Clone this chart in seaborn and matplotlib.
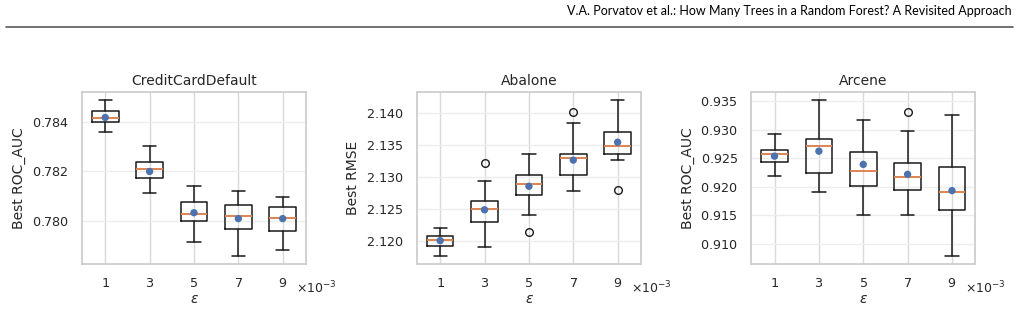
import matplotlib
matplotlib.use("Agg")
import matplotlib.pyplot as plt
from matplotlib.ticker import MultipleLocator
import pandas as pd
import seaborn as sns

# epsilon values (x positions)
eps = [0.001, 0.003, 0.005, 0.007, 0.009]

titles = ["CreditCardDefault", "Abalone", "Arcene"]
ylabels = ["Best ROC_AUC", "Best RMSE", "Best ROC_AUC"]
ytick_steps = [0.002, 0.005, 0.005]

# box statistics: whislo, q1, med, q3, whishi, mean, fliers
credit_whislo = [0.78359, 0.78112, 0.77914, 0.77855, 0.77881]
credit_q1 = [0.78403, 0.78172, 0.78000, 0.77964, 0.77958]
credit_med = [0.78416, 0.78212, 0.78028, 0.78019, 0.78011]
credit_q3 = [0.78445, 0.78238, 0.78076, 0.78064, 0.78057]
credit_whishi = [0.78492, 0.78303, 0.78139, 0.78122, 0.78095]
credit_mean = [0.78420, 0.78200, 0.78032, 0.78008, 0.78008]
credit_fliers = [[], [], [], [], []]

abalone_whislo = [2.11762, 2.11907, 2.12399, 2.12788, 2.13270]
abalone_q1 = [2.11922, 2.12290, 2.12725, 2.13026, 2.13363]
abalone_med = [2.12021, 2.12492, 2.12891, 2.13295, 2.13492]
abalone_q3 = [2.12078, 2.12617, 2.13031, 2.13363, 2.13710]
abalone_whishi = [2.12197, 2.12943, 2.13352, 2.13845, 2.14207]
abalone_mean = [2.12005, 2.12487, 2.12855, 2.13264, 2.13544]
abalone_fliers = [[], [2.13223], [2.12140], [2.14010], [2.12793]]

arcene_whislo = [0.92195, 0.91903, 0.91495, 0.91507, 0.90779]
arcene_q1 = [0.92439, 0.92241, 0.92020, 0.91950, 0.91594]
arcene_med = [0.92573, 0.92713, 0.92282, 0.92177, 0.91909]
arcene_q3 = [0.92643, 0.92836, 0.92614, 0.92416, 0.92340]
arcene_whishi = [0.92923, 0.93529, 0.93174, 0.92981, 0.93267]
arcene_mean = [0.92538, 0.92626, 0.92393, 0.92218, 0.91932]
arcene_fliers = [[], [], [], [0.93308], []]

panels = [
    (credit_whislo, credit_q1, credit_med, credit_q3, credit_whishi, credit_mean, credit_fliers),
    (abalone_whislo, abalone_q1, abalone_med, abalone_q3, abalone_whishi, abalone_mean, abalone_fliers),
    (arcene_whislo, arcene_q1, arcene_med, arcene_q3, arcene_whishi, arcene_mean, arcene_fliers),
]

sns.set_theme(style="whitegrid")
plt.rcParams["axes.formatter.use_mathtext"] = True
plt.rcParams["font.family"] = ["DejaVu Sans"]

fig = plt.figure(figsize=(10.19, 3.34), dpi=100)

# page header
fig.text(0.993, 0.966, "V.A. Porvatov et al.: How Many Trees in a Random Forest? A Revisited Approach",
         ha="right", va="center", fontsize=9, family="Lato", color="black")
fig.add_artist(plt.Line2D([0.006, 0.994], [0.918, 0.918], color="0.35", lw=1.2))

lefts = [0.0802, 0.4089, 0.737]
for i, (wlo, q1, med, q3, whi, mean, fl) in enumerate(panels):
    ax = fig.add_axes([lefts[i], 0.2096, 0.2203, 0.515])
    stats = [dict(whislo=wlo[k], q1=q1[k], med=med[k], q3=q3[k], whishi=whi[k],
                  fliers=fl[k], mean=mean[k]) for k in range(len(eps))]
    ax.bxp(stats, positions=eps, widths=0.0012, manage_ticks=False, showmeans=False,
           boxprops=dict(color="0.1", lw=1.1),
           whiskerprops=dict(color="0.1", lw=1.1),
           capprops=dict(color="0.1", lw=1.1),
           medianprops=dict(color="#DD8452", lw=1.4),
           flierprops=dict(marker="o", markerfacecolor="none", markeredgecolor="0.1",
                           markersize=5.5, markeredgewidth=1.0))
    df = pd.DataFrame({"eps": eps, "mean": mean})
    sns.scatterplot(data=df, x="eps", y="mean", ax=ax, color="#4C72B0", s=28,
                    edgecolor="none", zorder=5, legend=False)
    ax.set_xticks(eps)
    ax.yaxis.set_major_locator(MultipleLocator(ytick_steps[i]))
    ax.ticklabel_format(axis="x", style="sci", scilimits=(-3, -3), useMathText=True)
    ax.xaxis.get_offset_text().set_visible(False)
    ax.text(0.955, -0.14, r"$\times10^{-3}$", transform=ax.transAxes,
            ha="left", va="center", fontsize=9, color="0.15")
    ax.grid(axis="y", color="0.93")
    ax.grid(axis="x", color="0.85")
    ax.set_title(titles[i], fontsize=10, pad=5)
    ax.set_ylabel(ylabels[i], fontsize=10)
    ax.set_xlabel("ε", fontsize=10, fontstyle="italic", labelpad=1)
    ax.tick_params(labelsize=9.2)

fig.savefig("out.png", dpi=100)
